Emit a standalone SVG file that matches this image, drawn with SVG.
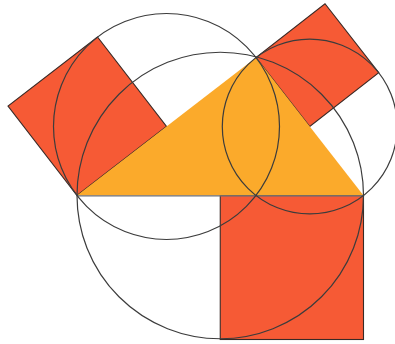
<svg xmlns="http://www.w3.org/2000/svg" width="395" height="344" viewBox="0 0 395 344">
  <style>
    .sq { fill: #F65A35; stroke: #3a2a26; stroke-width: 1.1; stroke-linejoin: miter; }
    .tri { fill: #FBAA2B; stroke: none; }
    .base { stroke: #6b6f78; stroke-width: 1.3; fill: none; }
    .circ { fill: none; stroke: #3c3c3c; stroke-width: 1.2; }
  </style>
  <rect width="395" height="344" fill="#ffffff"/>
  <g id="square-left">
    <polygon class="sq" points="77,195.5 166.5,126.5 97.5,37 8,106"/>
  </g>
  <g id="square-right">
    <polygon class="sq" points="256,57.5 309.75,126.5 378.75,72.7 325,3.7"/>
  </g>
  <g id="square-bottom">
    <rect class="sq" x="220.25" y="195.5" width="143.25" height="144"/>
  </g>
  <g id="triangle">
    <polygon class="tri" points="77,195.5 256,57.5 363.5,195.5"/>
    <line class="base" x1="77" y1="195.8" x2="363.5" y2="195.8"/>
  </g>
  <g id="connectors">
    <circle id="circle-ac" class="circ" cx="166.5" cy="126.5" r="113"/>
    <circle id="circle-bc" class="circ" cx="309.75" cy="126.5" r="87.45"/>
    <circle id="circle-ab" class="circ" cx="220.25" cy="195.5" r="143.25"/>
  </g>
</svg>
